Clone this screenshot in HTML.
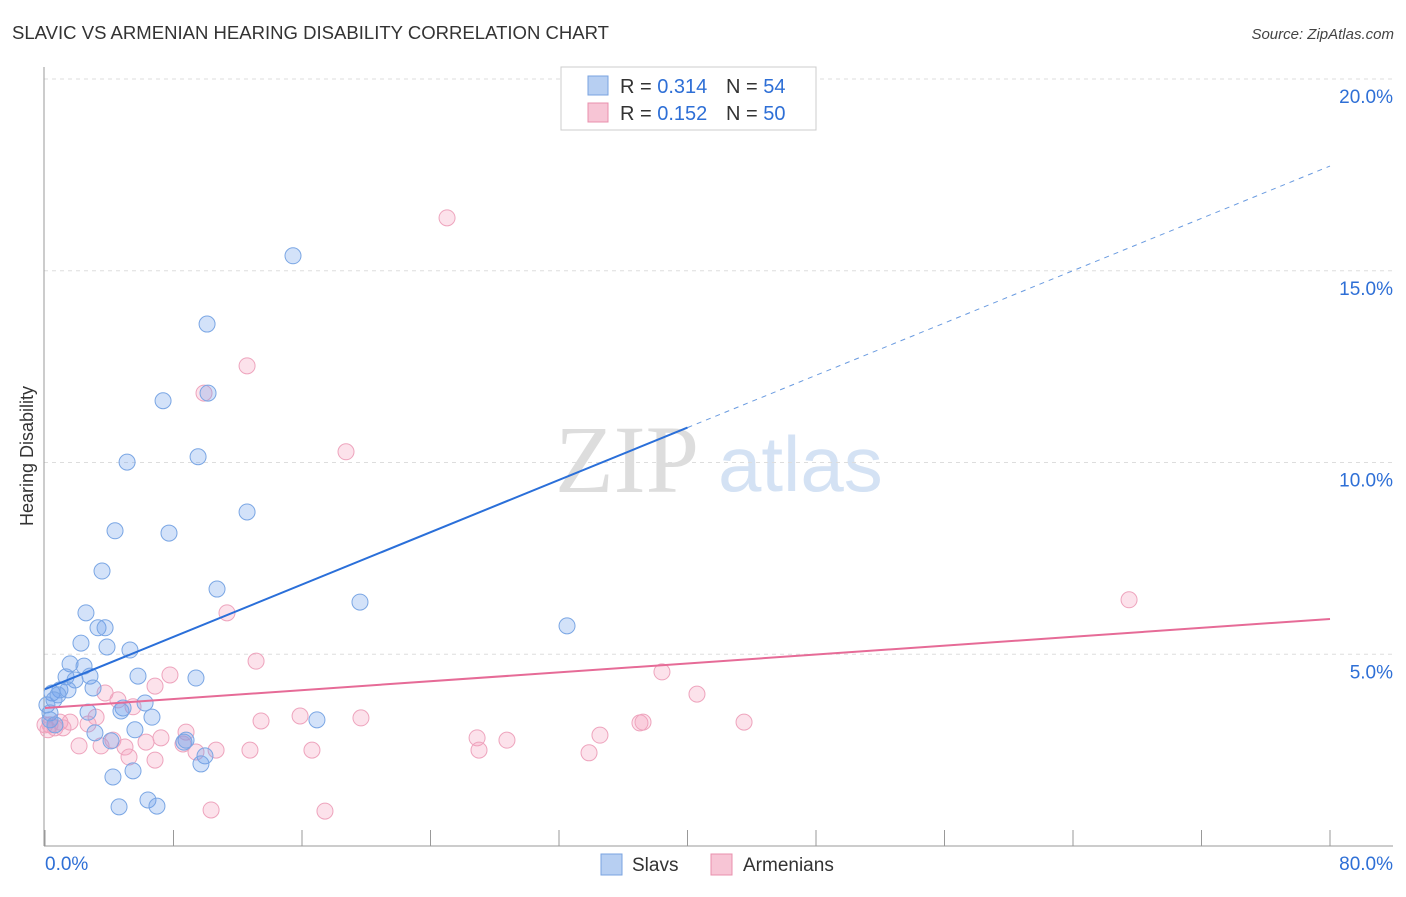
<!DOCTYPE html>
<html><head><meta charset="utf-8">
<style>
body{margin:0;background:#fff;font-family:"Liberation Sans",sans-serif;}
svg text{font-family:"Liberation Sans",sans-serif;}
</style></head>
<body>
<svg id="chart" width="1406" height="892" viewBox="0 0 1406 892" xmlns="http://www.w3.org/2000/svg">
<text x="12" y="39" font-size="18" fill="#333" textLength="597" lengthAdjust="spacingAndGlyphs">SLAVIC VS ARMENIAN HEARING DISABILITY CORRELATION CHART</text>
<text x="1394" y="39" font-size="15" fill="#444" text-anchor="end" font-style="italic">Source: ZipAtlas.com</text>
<text x="555" y="492" font-size="96" fill="#ddd" style="font-family:'Liberation Serif',serif">ZIP</text>
<text x="718" y="491" font-size="78" fill="#d4e2f4">atlas</text>
<text transform="translate(33,456) rotate(-90)" font-size="18" fill="#333" text-anchor="middle">Hearing Disability</text>
<g id="grid"></g>
<g id="axes"></g>
<g id="points"></g>
<g id="lines"></g>
<g>
<rect x="561" y="67" width="255" height="63" fill="#fff" stroke="#ccc"/>
<rect x="588" y="76" width="20" height="19" fill="#b7cff2" stroke="#7aa3e0"/>
<text x="620" y="93" font-size="20" fill="#333">R = <tspan fill="#2e6fd6">0.314</tspan></text>
<text x="726" y="93" font-size="20" fill="#333">N = <tspan fill="#2e6fd6">54</tspan></text>
<rect x="588" y="103" width="20" height="19" fill="#f7c5d5" stroke="#e890ad"/>
<text x="620" y="120" font-size="20" fill="#333">R = <tspan fill="#2e6fd6">0.152</tspan></text>
<text x="726" y="120" font-size="20" fill="#333">N = <tspan fill="#2e6fd6">50</tspan></text>
</g>
<g>
<rect x="601" y="854" width="21" height="21" fill="#b7cff2" stroke="#7aa3e0"/>
<text x="632" y="871" font-size="19" fill="#333">Slavs</text>
<rect x="711" y="854" width="21" height="21" fill="#f7c5d5" stroke="#e890ad"/>
<text x="743" y="871" font-size="19" fill="#333">Armenians</text>
</g>
</svg>
<script>
const yTicks=[5,10,15,20];
const yTickLabels=["5.0%","10.0%","15.0%","20.0%"];
const xTickLabels=["0.0%","80.0%"];
const slavX=[15.44,10.09,7.35,10.15,5.11,9.53,12.58,4.36,7.72,3.55,10.71,19.61,2.55,3.30,3.74,32.50,2.24,3.86,5.29,1.56,2.43,5.79,9.40,1.31,1.87,2.80,2.99,0.93,1.43,0.44,0.81,0.12,0.56,4.86,6.23,2.68,4.73,6.66,16.93,0.31,5.60,3.11,4.11,8.78,8.65,9.96,9.71,4.23,5.48,4.61,6.41,6.97,0.31,0.62];
const slavY=[15.39,13.61,11.61,11.81,10.01,10.15,8.71,8.22,8.16,7.17,6.70,6.36,6.08,5.69,5.69,5.74,5.29,5.19,5.11,4.75,4.69,4.43,4.38,4.41,4.33,4.43,4.12,4.07,4.07,3.99,3.94,3.68,3.81,3.60,3.73,3.49,3.52,3.36,3.29,3.47,3.03,2.95,2.74,2.76,2.71,2.35,2.14,1.80,1.96,1.02,1.20,1.04,3.29,3.16];
const armX=[25.03,12.58,9.90,18.74,67.49,11.33,13.14,38.41,7.78,40.59,3.74,6.85,4.54,5.48,3.18,2.68,1.56,0.93,0.31,0.62,13.45,15.88,19.67,43.52,37.04,37.23,8.78,7.22,6.29,4.23,4.98,3.49,2.12,8.59,10.65,12.76,16.62,26.90,28.76,34.55,27.02,33.87,9.40,5.23,6.85,10.34,17.43,0,0.19,1.12];
const armY=[16.38,12.52,11.81,10.28,6.42,6.08,4.82,4.54,4.46,3.96,3.99,4.17,3.81,3.63,3.36,3.18,3.23,3.23,3.16,3.08,3.26,3.39,3.34,3.23,3.21,3.23,2.97,2.82,2.71,2.76,2.58,2.61,2.61,2.66,2.50,2.50,2.50,2.82,2.76,2.89,2.50,2.43,2.45,2.32,2.24,0.94,0.91,3.16,3.03,3.08];
const slavLine=[4.09,17.73];
const armLine=[3.60,5.92];
const xMax=80;

const NS="http://www.w3.org/2000/svg";
const X=v=>45+v/xMax*1285;
const Y=v=>846-v*38.35;
function mk(tag,attrs,parent){const e=document.createElementNS(NS,tag);for(const k in attrs)e.setAttribute(k,attrs[k]);parent.appendChild(e);return e;}
const grid=document.getElementById('grid'),axes=document.getElementById('axes'),pts=document.getElementById('points'),lines=document.getElementById('lines');
yTicks.forEach((t,i)=>{
  const g=mk('line',{x1:44,x2:1393,y1:Y(t),y2:Y(t),stroke:'#ddd','stroke-dasharray':'4,4'},grid);
  
  
  const tx=mk('text',{x:1393,y:Y(t)+24,'font-size':19,fill:'#2e6fd6','text-anchor':'end'},axes);
  tx.textContent=yTickLabels[i];
  
  
});
const ya=mk('line',{x1:44,x2:44,y1:67,y2:846,stroke:'#999'},axes);


const xa=mk('line',{x1:44,x2:1393,y1:846,y2:846,stroke:'#999'},axes);


for(let i=0;i<=10;i++){
  const v=i*xMax/10;
  const tk=mk('line',{x1:X(v),x2:X(v),y1:830,y2:846,stroke:'#999'},axes);
  
  
}
const xl0=mk('text',{x:45,y:870,'font-size':19,fill:'#2e6fd6'},axes);xl0.textContent=xTickLabels[0];


const xl1=mk('text',{x:1393,y:870,'font-size':19,fill:'#2e6fd6','text-anchor':'end'},axes);xl1.textContent=xTickLabels[1];



armX.forEach((x,i)=>{
  const c=mk('circle',{cx:X(x),cy:Y(armY[i]),r:8,fill:'rgba(244,160,190,0.3)',stroke:'#eea4bd','stroke-width':1},pts);
  
  
});
slavX.forEach((x,i)=>{
  const c=mk('circle',{cx:X(x),cy:Y(slavY[i]),r:8,fill:'rgba(110,160,235,0.3)',stroke:'#7aa6e4','stroke-width':1},pts);
  
  
});
const sy=v=>slavLine[0]+(slavLine[1]-slavLine[0])*v/xMax;
const l1=mk('line',{x1:X(0),y1:Y(sy(0)),x2:X(40),y2:Y(sy(40)),stroke:'#2a6fd9','stroke-width':2},lines);


const l2=mk('line',{x1:X(40),y1:Y(sy(40)),x2:X(80),y2:Y(sy(80)),stroke:'#6a9be0','stroke-width':1,'stroke-dasharray':'5,5'},lines);


const l3=mk('line',{x1:X(0),y1:Y(armLine[0]),x2:X(80),y2:Y(armLine[1]),stroke:'#e66b97','stroke-width':2},lines);


</script>
</body></html>
